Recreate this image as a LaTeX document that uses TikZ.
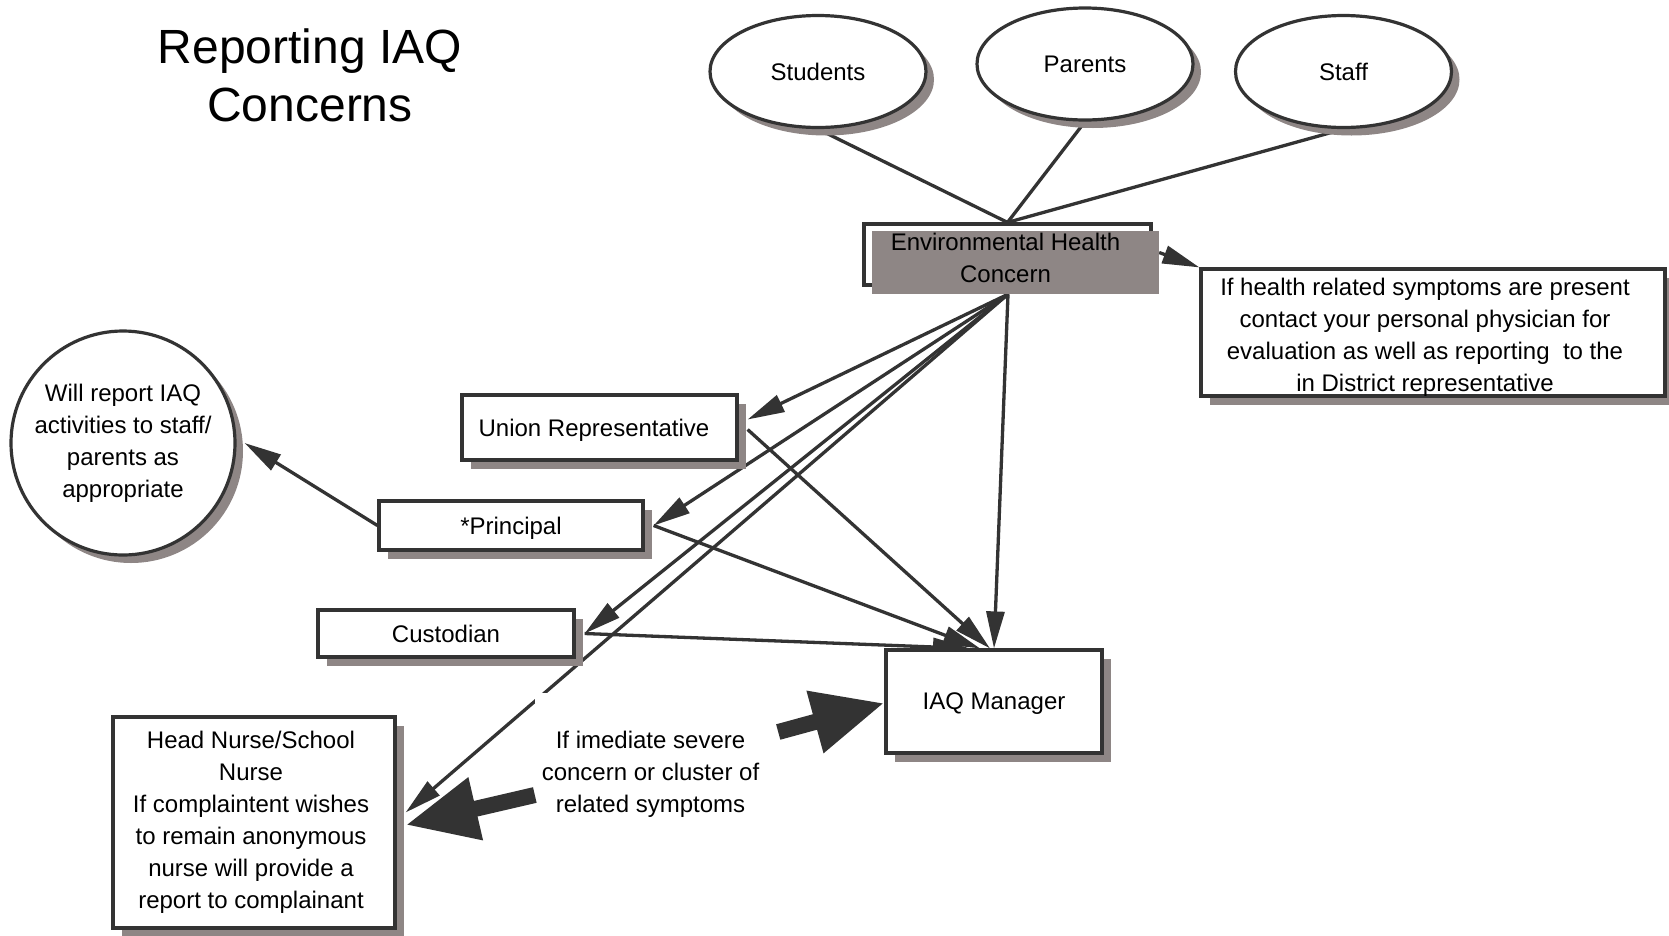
\documentclass[tikz,border=0pt]{standalone}
\usepackage{fontspec}
\setmainfont{Liberation Sans}
\usetikzlibrary{arrows.meta,shapes.geometric,shadows}
\definecolor{linec}{HTML}{333333}
\definecolor{shadowc}{RGB}{142,134,133}
\pgfdeclarelayer{background}
\pgfsetlayers{background,main}
\begin{document}
\begin{tikzpicture}[x=1pt,y=-1pt,
  every node/.style={font=\fontsize{24}{32}\selectfont, text=black},
  shad/.style={drop shadow={shadow xshift=9pt,shadow yshift=-9pt,fill=shadowc,opacity=1,draw=none}},
  box/.style={draw=linec, line width=3.2pt, fill=white, rectangle, inner sep=0pt, align=center, shad},
  oval/.style={draw=linec, line width=3.2pt, fill=white, ellipse, inner sep=0pt,
    minimum width=216pt, minimum height=112pt,
    drop shadow={shadow xshift=8pt,shadow yshift=-8pt,fill=shadowc,opacity=1,draw=none}},
  conn/.style={draw=linec, line width=3.3pt},
  arr/.style={conn, -{Triangle[length=37pt,width=18pt]}},
  bigarr/.style={draw=linec, line width=16pt, -{Triangle[length=72pt,width=60pt]}},
]
\useasboundingbox (0,0) rectangle (1669,935);

% title
\node[font=\fontsize{48}{58}\selectfont, align=center] (title) at (310,75) {Reporting IAQ\\Concerns};

% ovals
\node[oval] (stud) at (818,71.5) {Students};
\node[oval] (par) at (1085,64) {Parents};
\node[oval] (staff) at (1343.5,71.5) {Staff};

% environmental health concern
\node[draw=linec, line width=3.2pt, minimum width=287pt, minimum height=61pt, inner sep=0pt] (ehcout) at (1007.5,254.5) {};
\node[fill=shadowc, minimum width=287pt, minimum height=63pt, inner sep=0pt, align=center, text depth=10pt] (ehc) at (1015.5,262.5)
  {\hspace*{-20pt}Environmental Health\\\hspace*{-20pt}Concern};
\coordinate (ehcb) at ([xshift=-7.5pt]ehc.south);

% callout
\node[box, minimum width=464pt, minimum height=127pt] (note) at (1433,332.5)
  {\rule{0pt}{26pt}\hspace*{-16pt}If health related symptoms are present\\
   \hspace*{-16pt}contact your personal physician for\\
   \hspace*{-16pt}evaluation as well as reporting~ to the\\
   \hspace*{-16pt}in District representative};

% boxes
\node[box, minimum width=275pt, minimum height=65pt, text depth=0pt] (union) at (599.5,427.5) {\hspace*{-11pt}Union Representative};
\node[box, minimum width=264pt, minimum height=49pt, text depth=0pt] (princ) at (511,525.5) {*Principal};
\node[box, minimum width=256pt, minimum height=47pt] (cust) at (446,633.5) {Custodian};
\node[box, minimum width=216pt, minimum height=103pt, text depth=0pt] (iaq) at (994,701.5) {IAQ Manager};
\node[box, minimum width=282pt, minimum height=211pt] (nurse) at (254,822.5)
  {\hspace*{-6pt}Head Nurse/School\\
   \hspace*{-6pt}Nurse\\
   \hspace*{-6pt}If complaintent wishes\\
   \hspace*{-6pt}to remain anonymous\\
   \hspace*{-6pt}nurse will provide a\\
   \hspace*{-6pt}report to complainant};
\node[circle, draw=linec, line width=3.2pt, fill=white, inner sep=0pt, minimum size=224pt, align=center,
  drop shadow={shadow xshift=8pt,shadow yshift=-8pt,fill=shadowc,opacity=1,draw=none}] (circ) at (123,443)
  {Will report IAQ\\activities to staff/\\parents as\\appropriate};

% thin connectors (under the boxes)
\begin{pgfonlayer}{background}
\draw[conn] (stud.south) -- (ehcout.north);
\draw[conn] (par.south) -- (ehcout.north);
\draw[conn] (staff.south) -- (ehcout.north);
\draw[arr] ([yshift=10pt]ehc.east) -- (note.north west);
\draw[arr] (ehcb) -- ([xshift=9pt,yshift=8pt]union.east);
\draw[arr] (ehcb) -- ([xshift=9pt]princ.east);
\draw[arr] (ehcb) -- ([xshift=9pt]cust.east);
\draw[arr] (ehcb) -- ([xshift=9pt,yshift=10pt]nurse.east);
\draw[arr] (ehcb) -- (iaq.north);
\draw[arr] ([xshift=9pt,yshift=-2pt]union.east) -- ([xshift=-4pt]iaq.north);
\draw[arr] ([xshift=9pt]princ.east) -- ([xshift=-14pt]iaq.north);
\draw[arr] ([xshift=9pt]cust.east) -- ([xshift=-24pt]iaq.north);
\draw[arr] (princ.west) -- ([xshift=8pt]circ.east);
\end{pgfonlayer}

% label with thick arrows
\node[fill=white, minimum width=243pt, minimum height=162pt, inner sep=0pt, align=center] (lbl) at (656.5,774)
  {\hspace*{-12pt}If imediate severe\\\hspace*{-12pt}concern or cluster of\\\hspace*{-12pt}related symptoms};
\draw[bigarr] ([yshift=-21pt]lbl.west) -- ([xshift=9pt,yshift=-2.5pt]nurse.east);
\draw[bigarr] ([yshift=42pt]lbl.east) -- ([yshift=-1.5pt]iaq.west);
\end{tikzpicture}
\end{document}
